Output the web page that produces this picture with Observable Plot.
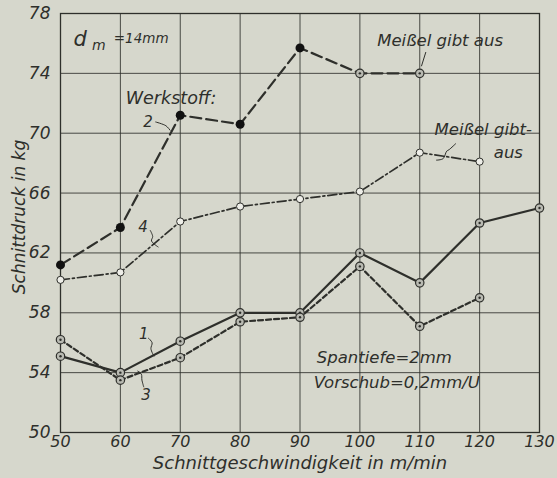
<!DOCTYPE html>
<html>
<head>
<meta charset="utf-8">
<script src="https://cdn.jsdelivr.net/npm/d3@7"></script>
<script src="https://cdn.jsdelivr.net/npm/@observablehq/plot@0.6"></script>
<style>
  html, body { margin: 0; padding: 0; background: #d6d7cc; }
  #chart svg { display: block; }
</style>
</head>
<body>
<div id="chart"></div>
<script>
// Cutting speed (m/min)
const speeds = [50, 60, 70, 80, 90, 100, 110, 120, 130];
// Cutting force (kg) per material ("Werkstoff")
const w1 = [55.1, 54.0, 56.1, 58.0, 58.0, 62.0, 60.0, 64.0, 65.0];
const w2 = [61.2, 63.7, 71.2, 70.6, 75.7, 74.0, 74.0];
const w3 = [56.2, 53.5, 55.0, 57.4, 57.7, 61.1, 57.1, 59.0];
const w4 = [60.2, 60.7, 64.1, 65.1, 65.6, 66.1, 68.7, 68.1];
const xTicks = [50, 60, 70, 80, 90, 100, 110, 120, 130];
const yTicks = [50, 54, 58, 62, 66, 70, 74, 78];

const rows = (vals, s) => vals.map((v, i) => ({x: speeds[i], y: v, s}));
const d1 = rows(w1, "1"), d2 = rows(w2, "2"), d3 = rows(w3, "3"), d4 = rows(w4, "4");
const d2solid = d2.filter(d => d.x < 100);
const d2hollow = d2.filter(d => d.x >= 100);

// annotations (data coordinates)
const notesStart = [
  {x: 60.9, y: 72.35, t: "Werkstoff:", fs: 17.5},
  {x: 92.8, y: 55.0, t: "Spantiefe=2mm", fs: 16.5},
  {x: 92.3, y: 53.35, t: "Vorschub=0,2mm/U", fs: 16.5},
  {x: 58.9, y: 76.35, t: "=14mm", fs: 13.5}
];
const notesMid = [
  {x: 64.6, y: 70.75, t: "2", fs: 15},
  {x: 63.8, y: 63.7, t: "4", fs: 15},
  {x: 63.9, y: 56.55, t: "1", fs: 15},
  {x: 64.3, y: 52.5, t: "3", fs: 15},
  {x: 113.4, y: 76.2, t: "Meißel gibt aus", fs: 16.5},
  {x: 120.6, y: 70.25, t: "Meißel gibt-", fs: 16.5},
  {x: 124.8, y: 68.7, t: "aus", fs: 16.5}
];
const leaders = [
  {g: "a", x: 65.9, y: 70.75}, {g: "a", x: 67.6, y: 70.5}, {g: "a", x: 68.3, y: 70.2},
  {g: "b", x: 65.0, y: 63.5}, {g: "b", x: 65.4, y: 63.1}, {g: "b", x: 65.2, y: 62.8}, {g: "b", x: 66.3, y: 62.4},
  {g: "c", x: 64.7, y: 56.3}, {g: "c", x: 65.3, y: 56.0}, {g: "c", x: 65.1, y: 55.6}, {g: "c", x: 65.6, y: 55.1},
  {g: "d", x: 63.9, y: 53.05}, {g: "d", x: 63.6, y: 53.5}, {g: "d", x: 63.5, y: 53.9}, {g: "d", x: 62.9, y: 54.1},
  {g: "e", x: 111.0, y: 75.4}, {g: "e", x: 110.3, y: 74.5},
  {g: "f", x: 116.0, y: 69.3}, {g: "f", x: 114.9, y: 68.9}, {g: "f", x: 114.5, y: 68.8}, {g: "f", x: 113.9, y: 68.3}, {g: "f", x: 112.8, y: 68.2}
];

const ink = "#2e2f2b";
const font = "'DejaVu Sans', sans-serif";

const circleDot = (data) => [
  Plot.dot(data, {x: "x", y: "y", r: 4.2, fill: "#b9bab2", stroke: ink, strokeWidth: 1.2}),
  Plot.dot(data, {x: "x", y: "y", r: 1.2, fill: ink})
];

const chart = Plot.plot({
  width: 557,
  height: 478,
  marginLeft: 60,
  marginRight: 18,
  marginTop: 13,
  marginBottom: 46,
  style: {background: "#d6d7cc", fontFamily: font, fontStyle: "italic", color: ink},
  x: {domain: [50, 130], ticks: xTicks},
  y: {domain: [50, 78], ticks: yTicks},
  marks: [
    Plot.gridX(xTicks, {stroke: ink, strokeOpacity: 0.85, strokeWidth: 1}),
    Plot.gridY(yTicks, {stroke: ink, strokeOpacity: 0.85, strokeWidth: 1}),
    Plot.frame({stroke: ink, strokeWidth: 1.3}),
    Plot.axisX(xTicks, {tickSize: 0, tickPadding: 3, fontSize: 16, label: null, fill: ink}),
    Plot.axisY(yTicks, {tickSize: 0, tickPadding: 10, fontSize: 17, label: null, fill: ink}),
    Plot.text(["Schnittgeschwindigkeit in m/min"], {frameAnchor: "bottom", dy: 36, fontSize: 18, fill: ink, text: d => d}),
    Plot.text(["Schnittdruck in kg"], {frameAnchor: "left", textAnchor: "middle", dx: -41, dy: -6, rotate: -90, fontSize: 17, fill: ink, text: d => d}),
    // lines
    Plot.line(d2, {x: "x", y: "y", stroke: ink, strokeWidth: 2.2, strokeDasharray: "11,5"}),
    Plot.line(d4, {x: "x", y: "y", stroke: ink, strokeWidth: 1.7, strokeDasharray: "9,3,2,3"}),
    Plot.line(d1, {x: "x", y: "y", stroke: ink, strokeWidth: 2.2}),
    Plot.line(d3, {x: "x", y: "y", stroke: ink, strokeWidth: 2.2, strokeDasharray: "5,3"}),
    // markers
    Plot.dot(d2solid, {x: "x", y: "y", r: 4.5, fill: "#111"}),
    ...circleDot(d2hollow),
    Plot.dot(d4, {x: "x", y: "y", r: 3.6, fill: "#eeeee8", stroke: ink, strokeWidth: 1}),
    ...circleDot(d1),
    ...circleDot(d3),
    // annotations
    Plot.line(leaders, {x: "x", y: "y", z: "g", stroke: ink, strokeWidth: 1, curve: "catmull-rom"}),
    Plot.text(notesStart, {x: "x", y: "y", text: "t", textAnchor: "start", fontSize: "fs", fill: ink}),
    Plot.text(notesMid, {x: "x", y: "y", text: "t", textAnchor: "middle", fontSize: "fs", fill: ink}),
    Plot.text(["d"], {x: 53.3, y: 76.3, text: d => d, fontSize: 21, fill: ink}),
    Plot.text(["m"], {x: 56.4, y: 75.85, text: d => d, fontSize: 14, fill: ink})
  ]
});
document.getElementById("chart").append(chart);
</script>
</body>
</html>
